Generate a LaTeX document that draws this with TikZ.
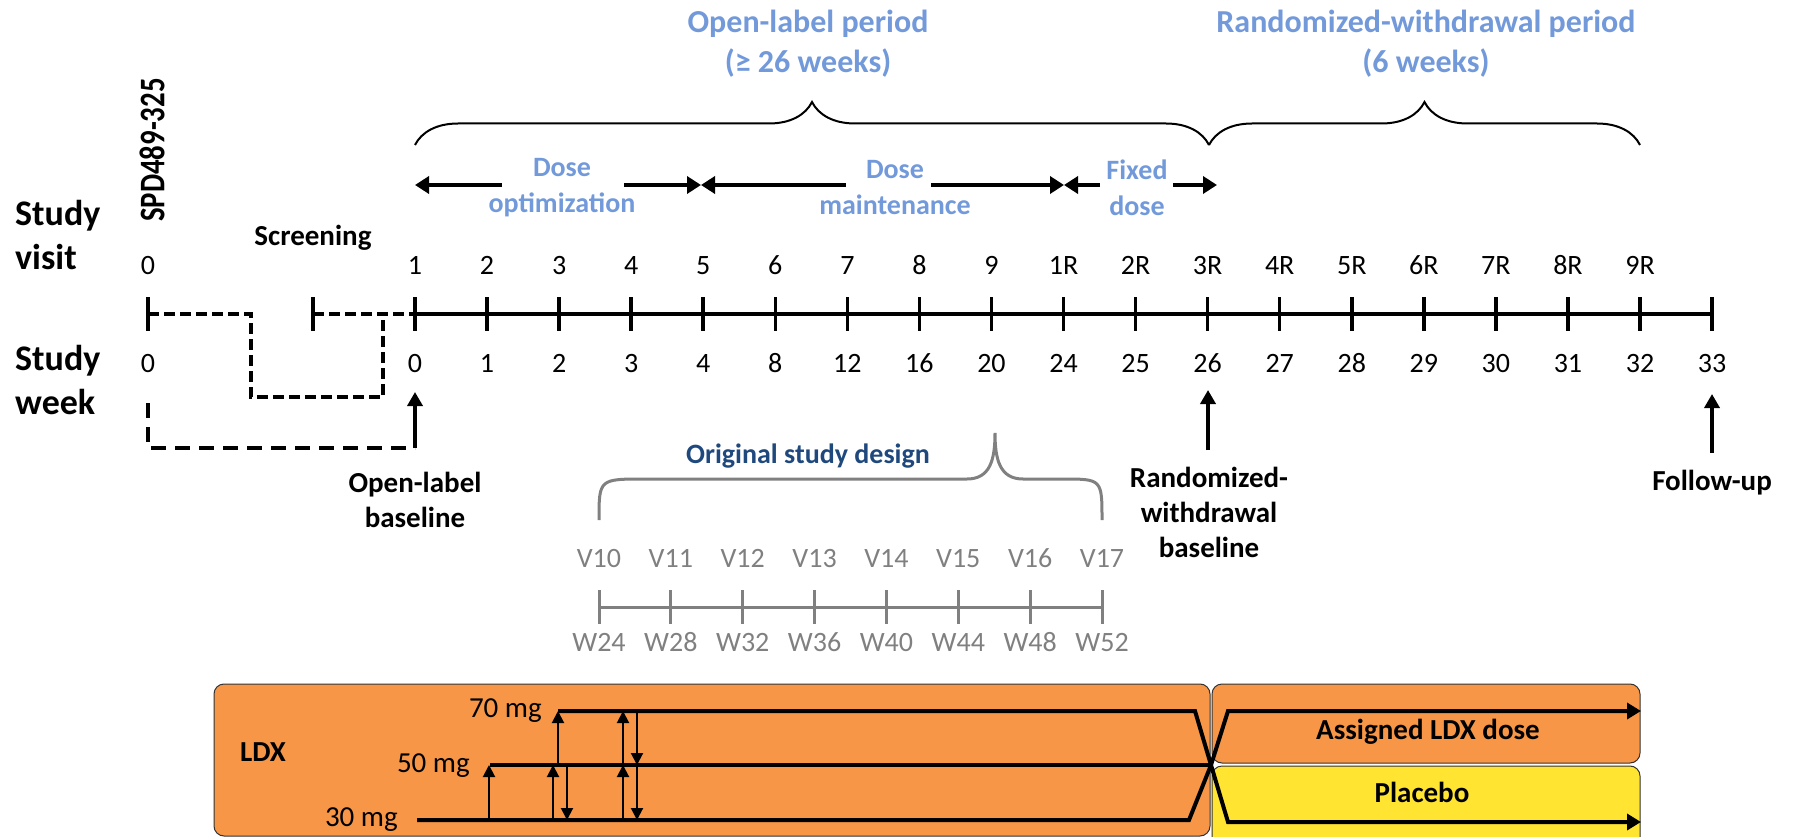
\documentclass[tikz,border=0pt]{standalone}
\usepackage{fontspec}
\setmainfont{Carlito}
\usetikzlibrary{arrows.meta,decorations.pathreplacing}

\definecolor{periodblue}{RGB}{114,153,218}
\definecolor{designblue}{RGB}{31,73,125}
\definecolor{oldgray}{RGB}{128,128,128}
\definecolor{ldxorange}{RGB}{247,150,70}
\definecolor{placeboyellow}{RGB}{255,228,50}

\tikzset{
  every node/.style={inner sep=0pt},
  axisline/.style={line width=4pt},
  tickmark/.style={line width=3.5pt},
  dashline/.style={line width=3.5pt, dash pattern=on 11pt off 5pt},
  longdash/.style={line width=3.5pt, dash pattern=on 15pt off 9pt},
  pointer/.style={line width=3.5pt, -{Triangle[length=14pt,width=15pt]}},
  phasearrow/.style={line width=4pt, -{Triangle[length=14pt,width=17pt]}},
  period/.style={font=\fontsize{32}{40}\selectfont\bfseries, text=periodblue, align=center},
  phase/.style={font=\fontsize{28}{36}\selectfont\bfseries, text=periodblue, align=center},
  num/.style={font=\fontsize{28}{33}\selectfont, anchor=base},
  rowlabel/.style={font=\fontsize{36}{44}\selectfont\bfseries, align=left, anchor=west},
  event/.style={font=\fontsize{29}{35}\selectfont\bfseries, align=center},
  bigbrace/.style={decorate, decoration={brace, amplitude=43pt}, line width=2pt},
  greyline/.style={line width=3pt, draw=oldgray},
  greynum/.style={font=\fontsize{28}{33}\selectfont, text=oldgray, anchor=base},
  armbox/.style={draw=black!80, line width=1pt, rounded corners=10pt},
  doseline/.style={line width=4pt},
  switch/.style={line width=2pt, -{Triangle[length=12pt,width=12pt]}},
  doselabel/.style={font=\fontsize{29}{33}\selectfont, anchor=base east},
  armlabel/.style={font=\fontsize{29}{33}\selectfont\bfseries},
}

\begin{document}
\begin{tikzpicture}[x=1pt,y=-1pt]
  \useasboundingbox (0,0) rectangle (1797,837);

  % periods and braces
  \node[period] (olp) at (808,44) {Open-label period\\(≥ 26 weeks)};
  \node[period] (rwp) at (1426,44) {Randomized-withdrawal period\\(6 weeks)};
  \draw[bigbrace] (415,145) -- (1209,145);
  \draw[bigbrace] (1209,145) -- (1640,145);

  % dose phases
  \node[phase] (opt) at (562,188) {Dose\\optimization};
  \node[phase] (mnt) at (895,188) {Dose\\maintenance};
  \node[phase] (fix) at (1137,188) {Fixed\\dose};
  \coordinate (ph0) at (415,185);
  \coordinate (ph1) at (701,185);
  \coordinate (ph2) at (1064,185);
  \coordinate (ph3) at (1217,185);
  \coordinate (opt-l) at (502,185);
  \coordinate (opt-r) at (624,185);
  \coordinate (mnt-l) at (846,185);
  \coordinate (mnt-r) at (931,185);
  \coordinate (fix-l) at (1100,185);
  \coordinate (fix-r) at (1173,185);
  \draw[phasearrow] (opt-l) -- (ph0);
  \draw[phasearrow] (opt-r) -- (ph1);
  \draw[phasearrow] (mnt-l) -- (ph1);
  \draw[phasearrow] (mnt-r) -- (ph2);
  \draw[phasearrow] (fix-l) -- (ph2);
  \draw[phasearrow] (fix-r) -- (ph3);

  % row titles
  \node[rowlabel] (visit) at (15,235) {Study\\visit};
  \node[rowlabel] (week) at (15,380) {Study\\week};
  \node[font=\fontsize{36}{40}\selectfont\bfseries, rotate=90] (spd) at (152,150)
    {\scalebox{0.8}[1]{SPD489-325}};
  \node[font=\fontsize{29}{33}\selectfont\bfseries, anchor=base] (scrtxt) at (313,246) {Screening};

  % screening before week 0
  \coordinate (pre) at (148,314);
  \coordinate (scr) at (313,314);
  \node[num] (v-pre) at (148,274) {0};
  \node[num] (w-pre) at (148,372) {0};
  \draw[tickmark] (148,297) -- (148,331);
  \draw[tickmark] (313,297) -- (313,331);

  % main time line
  \foreach \w [count=\i from 0] in {0,1,2,3,4,8,12,16,20,24,25,26,27,28,29,30,31,32,33} {
    \coordinate (t\i) at ({415+72.06*\i},314);
    \draw[tickmark] ([yshift=17pt]t\i) -- ([yshift=-17pt]t\i);
    \node[num] (w\i) at ({415+72.06*\i},372) {\w};
  }
  \foreach \v [count=\i from 0] in {1,2,3,4,5,6,7,8,9,1R,2R,3R,4R,5R,6R,7R,8R,9R}
    \node[num] (v\i) at ({415+72.06*\i},274) {\v};
  \draw[axisline] (t0) -- (t18);

  \draw[dashline] (pre) -- (251,314) -- (251,397) -- (383,397) -- (383,314);
  \draw[dashline] (scr) -- (t0);
  \coordinate (olb) at (415,448);
  \draw[longdash] (148,403) -- (148,448) -- (olb);

  % baselines and follow-up
  \coordinate (olb-tip) at (415,392);
  \coordinate (rwb) at (1208,450);
  \coordinate (rwb-tip) at (1208,390);
  \coordinate (fu) at (1712,453);
  \coordinate (fu-tip) at (1712,394);
  \draw[pointer] (olb) -- (olb-tip);
  \draw[pointer] (rwb) -- (rwb-tip);
  \draw[pointer] (fu) -- (fu-tip);
  \node[event] (olbtxt) at (415,500) {Open-label\\baseline};
  \node[event] (rwbtxt) at (1209,512) {Randomized-\\withdrawal\\baseline};
  \node[event, anchor=base] (futxt) at (1712,490) {Follow-up};

  % original study design
  \node[font=\fontsize{28}{33}\selectfont\bfseries, text=designblue, anchor=base] (osd) at (808,463)
    {Original study design};
  \draw[greyline] (599,520) .. controls (599,479) .. (645,479) -- (967,479)
    .. controls (990,479) and (995,460) .. (995,433)
    .. controls (995,460) and (1000,479) .. (1023,479) -- (1062,479)
    .. controls (1102,479) .. (1102,520);
  \foreach \vv/\ww [count=\i from 0] in {V10/W24,V11/W28,V12/W32,V13/W36,V14/W40,V15/W44,V16/W48,V17/W52} {
    \coordinate (g\i) at ({599+71.86*\i},607);
    \draw[greyline] ([yshift=17pt]g\i) -- ([yshift=-17pt]g\i);
    \node[greynum] (gv\i) at ({599+71.86*\i},567) {\vv};
    \node[greynum] (gw\i) at ({599+71.86*\i},651) {\ww};
  }
  \draw[greyline] (g0) -- (g7);

  % treatment arms
  \draw[armbox, fill=ldxorange] (214,684) rectangle (1210,836);
  \draw[armbox, fill=ldxorange] (1212,684) rectangle (1640,763);
  \draw[armbox, fill=placeboyellow] (1212,766) rectangle (1640,850);
  \node[armlabel] (ldx) at (263,752) {LDX};
  \node[armlabel] (assigned) at (1428,732) {Assigned LDX dose};
  \node[armlabel] (placebo) at (1422,792) {Placebo};

  \node[doselabel] (mg70) at (542,717) {70 mg};
  \node[doselabel] (mg50) at (470,772) {50 mg};
  \node[doselabel] (mg30) at (398,826) {30 mg};
  \coordinate (cross) at (1211,765);
  \draw[doseline] (558,711) -- (1195,711) -- (cross);
  \draw[doseline] (490,765) -- (cross);
  \draw[doseline] (417,820) -- (1189,820) -- (cross);
  \draw[doseline, -{Triangle[length=14pt,width=16pt]}] (cross) -- (1228,711) -- (1641,711);
  \draw[doseline, -{Triangle[length=14pt,width=16pt]}] (cross) -- (1228,822) -- (1641,822);

  \draw[switch] (489,820) -- (489,765);
  \draw[switch] (553,820) -- (553,765);
  \draw[switch] (558,765) -- (558,711);
  \draw[switch] (567,765) -- (567,820);
  \draw[switch] (623,820) -- (623,765);
  \draw[switch] (623,765) -- (623,711);
  \draw[switch] (637,711) -- (637,765);
  \draw[switch] (637,765) -- (637,820);
\end{tikzpicture}
\end{document}
